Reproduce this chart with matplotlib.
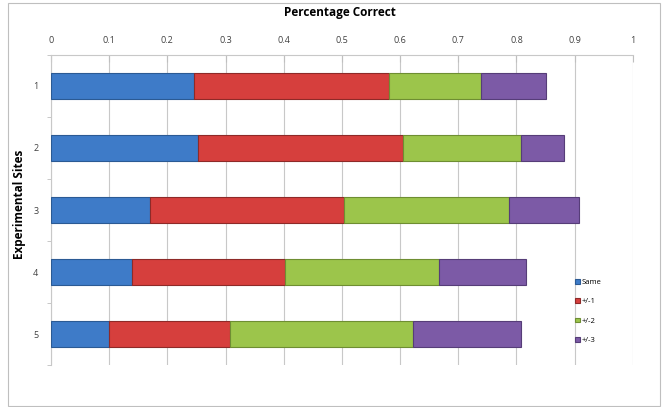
import numpy as np
import matplotlib
matplotlib.use('Agg')
import matplotlib.pyplot as plt
from matplotlib.patches import Rectangle

plt.rcParams['font.family'] = ['Open Sans', 'DejaVu Sans']

# data
sites = ['1', '2', '3', '4', '5']
same = [0.245, 0.252, 0.171, 0.139, 0.100]
pm1 = [0.336, 0.353, 0.333, 0.263, 0.208]
pm2 = [0.158, 0.203, 0.283, 0.264, 0.314]
pm3 = [0.111, 0.074, 0.121, 0.150, 0.185]
series = [same, pm1, pm2, pm3]
names = ['Same', '+/-1', '+/-2', '+/-3']
colors = ['#3E7BC8', '#D63F3D', '#9CC54B', '#7C5AA6']
edges = ['#2B5A94', '#8E2A28', '#6E8E32', '#563D78']

fig = plt.figure(figsize=(6.62, 4.07), dpi=100)
fig.patches.append(Rectangle((0.012, 0.003), 0.985, 0.99, transform=fig.transFigure,
                             fill=False, edgecolor='#BFBFBF', linewidth=0.8))
ax = fig.add_axes([0.077, 0.103, 0.879, 0.762])

y = np.arange(len(sites))
left = np.zeros(len(sites))
for vals, nm, c, ec in zip(series, names, colors, edges):
    ax.barh(y, vals, left=left, height=0.42, color=c, edgecolor=ec, linewidth=0.8,
            label=nm, zorder=3)
    left += np.array(vals)

ax.set_xlim(0, 1)
ax.set_ylim(len(sites) - 0.5, -0.5)
ax.xaxis.tick_top()
ax.set_xticks(np.arange(0, 1.01, 0.1))
ax.set_xticklabels(['0', '0.1', '0.2', '0.3', '0.4', '0.5', '0.6', '0.7', '0.8', '0.9', '1'])
ax.tick_params(axis='x', direction='in', length=5, color='#BFBFBF', labelsize=6.5,
               labelcolor='#404040', pad=7)
ax.set_yticks(y)
ax.set_yticklabels(sites)
ax.set_yticks(np.arange(-0.5, len(sites)), minor=True)
ax.tick_params(axis='y', which='major', length=0, labelsize=6.5, labelcolor='#404040', pad=9)
ax.tick_params(axis='y', which='minor', length=3, color='#BFBFBF')
ax.grid(axis='x', color='#C8C8C8', linewidth=0.8, zorder=0)

for s in ['right', 'bottom']:
    ax.spines[s].set_visible(False)
ax.spines['top'].set_color('#C8C8C8')
ax.spines['left'].set_color('#C8C8C8')

fig.text(0.514, 0.97, 'Percentage Correct', ha='center', va='center',
         fontsize=8.5, fontweight='bold')
fig.text(0.029, 0.497, 'Experimental Sites', ha='center', va='center',
         rotation=90, fontsize=8.5, fontweight='bold')

ax.legend(loc='upper left', bbox_to_anchor=(0.889, 0.30), frameon=False, fontsize=5.5,
          handlelength=0.6, handleheight=0.6, handletextpad=0.3, labelspacing=1.6)

fig.savefig('out.png', dpi=100)
